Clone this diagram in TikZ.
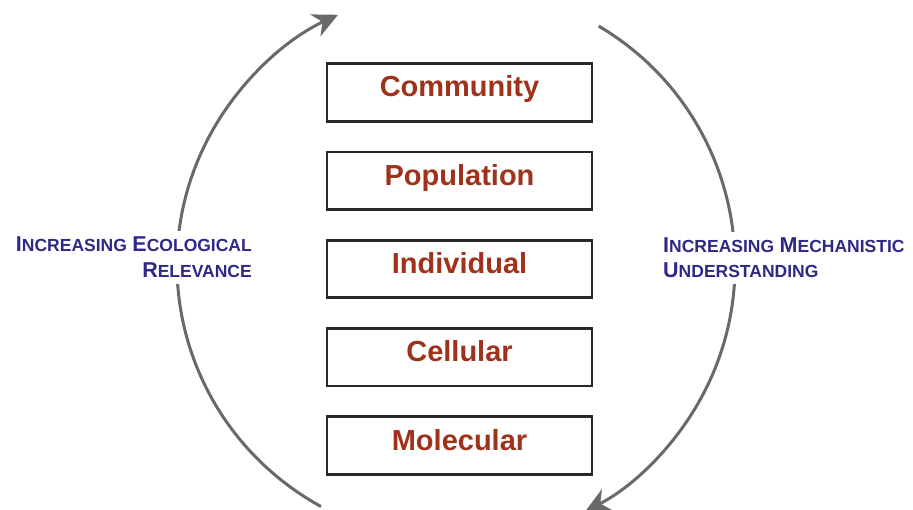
\documentclass[tikz,border=0pt]{standalone}
\usepackage{fontspec}
\setmainfont{Liberation Sans}
\usetikzlibrary{arrows.meta,calc}
\definecolor{lvlred}{RGB}{158,50,26}
\definecolor{lblblue}{RGB}{48,40,135}
\definecolor{arcgray}{RGB}{105,105,105}
\definecolor{boxline}{RGB}{40,40,40}
\newcommand\SCword[2]{{\fontsize{21.5pt}{26pt}\selectfont #1}{\fontsize{17.5pt}{26pt}\selectfont #2}}
\begin{document}
\begin{tikzpicture}[x=1pt,y=-1pt,
  levelbox/.style={draw=boxline, line width=2.6pt, fill=white,
    minimum width=265pt, minimum height=57.5pt, inner sep=0pt,
    text height=21pt, text depth=12pt,
    font=\fontsize{29pt}{34pt}\selectfont\bfseries, text=lvlred},
  sidelabel/.style={fill=white, inner sep=6pt, text=lblblue, font=\bfseries},
  cyclearrow/.style={draw=arcgray, line width=3pt,
    -{Stealth[length=25pt,width=24pt,inset=8pt]}}]
\useasboundingbox (0,0) rectangle (913,510);
\coordinate (ctr) at (459,265);
% cycle arrows
\draw[cyclearrow] ($(ctr)+(119.3:282 and 277)$)
  arc[start angle=240.7, end angle=115.4, x radius=282pt, y radius=277pt];
\draw[cyclearrow] ($(ctr)+(-59.6:276 and 277)$)
  arc[start angle=59.6, end angle=-62.8, x radius=276pt, y radius=277pt];
% level boxes
\node[levelbox] (community)  at (459.5,92.5)  {Community};
\node[levelbox] (population) at (459.5,180.8) {Population};
\node[levelbox] (individual) at (459.5,269)   {Individual};
\node[levelbox] (cellular)   at (459.5,357.2) {Cellular};
\node[levelbox] (molecular)  at (459.5,445.5) {Molecular};
% side labels
\node[sidelabel, anchor=base east] (ecoA) at (258,252)
  {\SCword{I}{NCREASING}\hspace{5.5pt}\SCword{E}{COLOGICAL}};
\node[sidelabel, anchor=base east] (ecoB) at (258,278)
  {\SCword{R}{ELEVANCE}};
\node[sidelabel, anchor=base west] (mechA) at (657,253)
  {\SCword{I}{NCREASING}\hspace{5.5pt}\SCword{M}{ECHANISTIC}};
\node[sidelabel, anchor=base west] (mechB) at (657,278)
  {\SCword{U}{NDERSTANDING}};
\end{tikzpicture}
\end{document}
